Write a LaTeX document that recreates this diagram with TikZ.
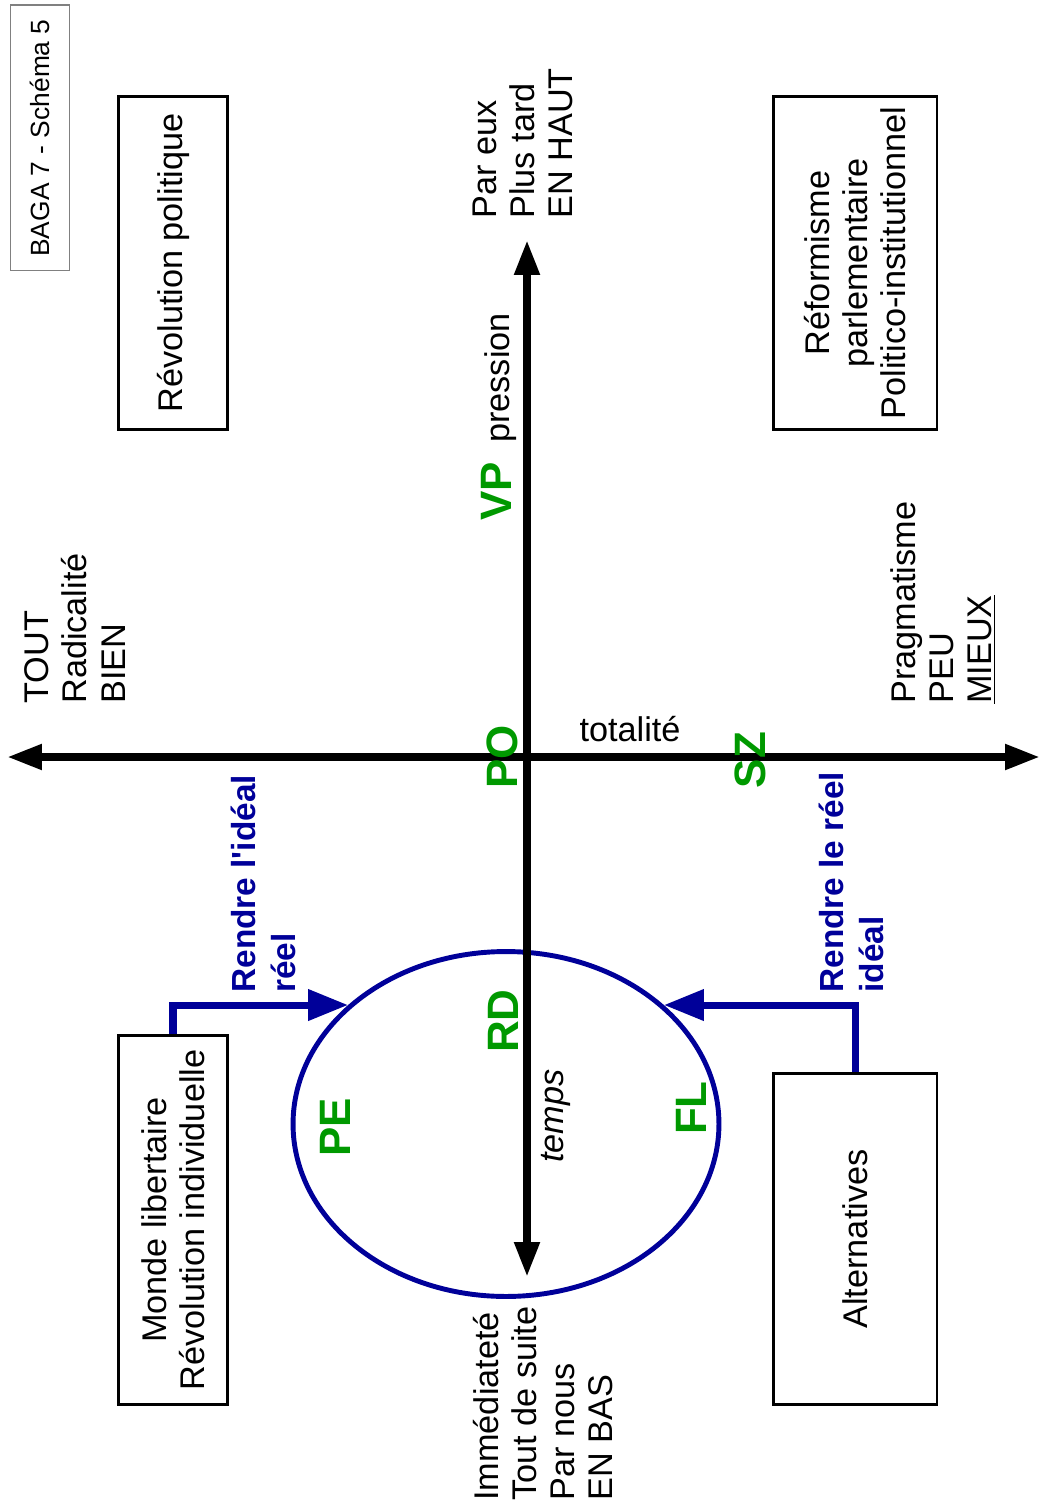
\documentclass[tikz,border=0pt]{standalone}
\usepackage{fontspec}
\setmainfont{Liberation Sans}
\usetikzlibrary{arrows.meta,shapes.geometric}
\definecolor{PlanGreen}{RGB}{0,153,0}
\definecolor{PlanBlue}{RGB}{0,0,153}

\tikzset{
  plain/.style={inner sep=0pt,font=\fontsize{19.5}{21.8}\selectfont},
  txt/.style={plain,rotate=90},
  multi/.style={txt,align=left,anchor=west},
  tag/.style={rotate=90,inner sep=0pt,text=PlanGreen,font=\fontsize{25}{28}\selectfont\bfseries},
  panel/.style={txt,draw,line width=1.7pt,minimum height=2.2cm,align=center},
  motto/.style={multi,text=PlanBlue,font=\fontsize{19}{22.7}\selectfont\bfseries},
  axis/.style={line width=4.5pt,{Triangle[length=0.7cm,width=0.48cm]}-{Triangle[length=0.7cm,width=0.48cm]}},
  link/.style={PlanBlue,line width=4pt,-{Triangle[length=0.8cm,width=0.6cm]}},
}

\begin{document}
\begin{tikzpicture}[x=0.02cm,y=-0.02cm]
\useasboundingbox (0,0) rectangle (1040,1506);

% title
\node[draw=gray,line width=0.6pt,rotate=90,inner sep=0pt,minimum width=5.32cm,minimum height=1.18cm,
      font=\fontsize{15}{18}\selectfont] (baga) at (40,138) {BAGA 7 - Schéma 5};

% the four boxes
\node[panel,minimum width=6.68cm] (revpol) at (173,263) {Révolution politique};
\node[panel,minimum width=6.68cm,minimum height=3.28cm] (reform) at (855,263) {Réformisme\\parlementaire\\Politico-institutionnel};
\node[panel,minimum width=7.4cm] (monde) at (173,1220) {Monde libertaire\\Révolution individuelle};
\node[panel,minimum width=6.64cm,minimum height=3.28cm] (altern) at (855,1239) {Alternatives};

% ellipse
\node[draw=PlanBlue,line width=2.8pt,ellipse,inner sep=0pt,minimum width=8.52cm,minimum height=6.9cm] (ronde) at (506,1124) {};

% axes
\coordinate (gauche) at (7,757);
\coordinate (droite) at (1040,757);
\coordinate (haut) at (527,240);
\coordinate (bas) at (527,1277);
\draw[axis] (gauche) -- (droite);
\draw[axis] (bas) -- (haut);

% blue arrows
\draw[link] (monde.east) |- (ronde.143);
\draw[link] (altern.east) |- (ronde.37);

% ends of the axes
\node[multi] (pareux) at (523,219) {Par eux\\Plus tard\\EN HAUT};
\node[multi] (tout) at (75,704) {TOUT\\Radicalité\\BIEN};
\node[multi] (pragma) at (943,704) {Pragmatisme\\PEU\\\underline{MIEUX}};
\node[multi] (immediat) at (543,1501) {Immédiateté\\Tout de suite\\Par nous\\EN BAS};
\node[txt] (pression) at (501,378) {pression};
\node[plain] (totalite) at (630,729) {totalité};
\node[txt,font=\fontsize{19.5}{21.8}\selectfont\itshape] (temps) at (556,1116) {temps};

\node[motto] (idealreel) at (263,993) {Rendre l\textquotesingle idéal\\réel};
\node[motto] (reelideal) at (851,993) {Rendre le réel\\idéal};

% green tags
\node[tag] (vp) at (496,491) {VP};
\node[tag] (po) at (502,757) {PO};
\node[tag] (sz) at (750,760) {SZ};
\node[tag] (rd) at (503,1021) {RD};
\node[tag] (pe) at (335,1127) {PE};
\node[tag] (fl) at (691,1108) {FL};
\end{tikzpicture}
\end{document}
